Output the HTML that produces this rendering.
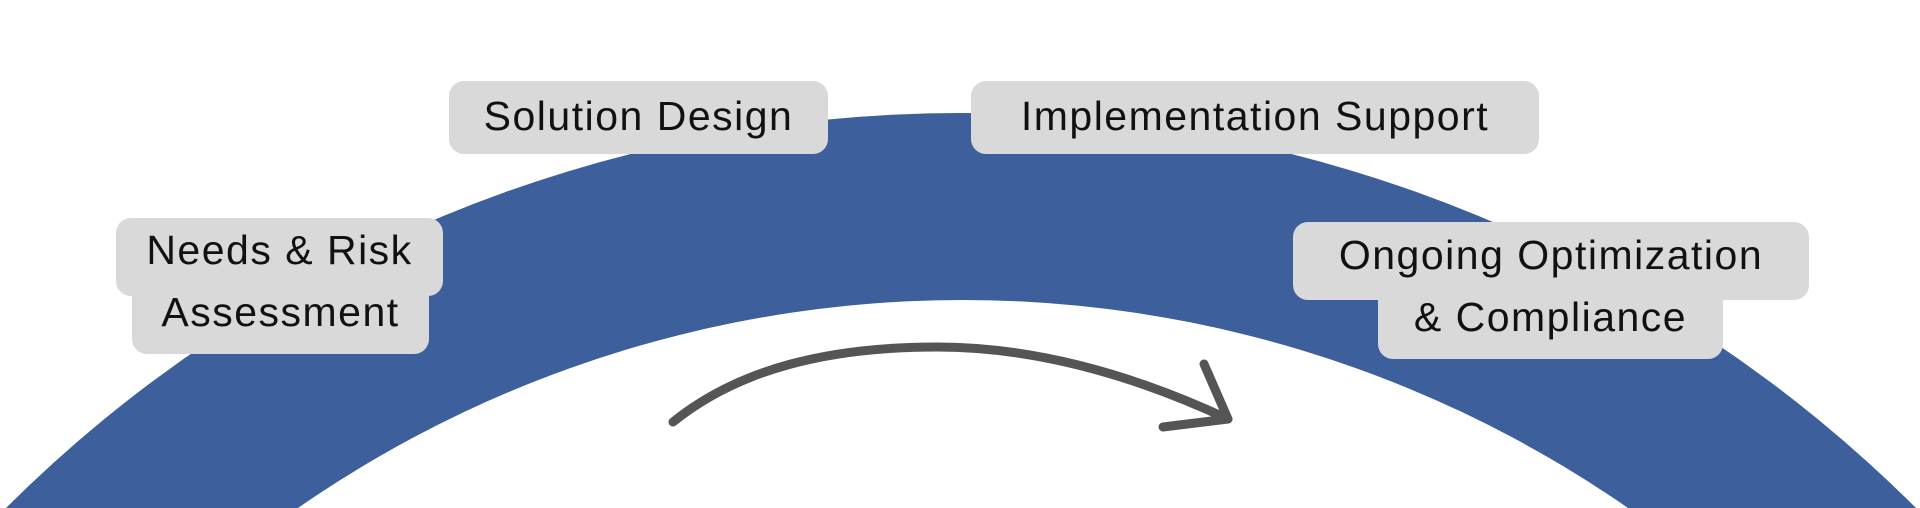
<!DOCTYPE html>
<html><head><meta charset="utf-8"><style>
html,body{margin:0;padding:0;background:#fff;overflow:hidden;}
body{width:1920px;height:508px;overflow:hidden;position:relative;font-family:"Liberation Sans",sans-serif;}
.b{position:absolute;background:#d9d9d9;border-radius:15px;}
.t{position:absolute;color:#111;font-size:41px;letter-spacing:1.5px;white-space:nowrap;text-align:center;line-height:1;}
</style></head><body>
<svg width="1920" height="508" style="position:absolute;left:0;top:0;display:block">
<defs><mask id="m"><rect width="1920" height="508" fill="#fff"/><circle cx="963" cy="1467" r="1167" fill="#000"/></mask></defs>
<circle cx="961" cy="1465" r="1352" fill="#3d5f9b" mask="url(#m)"/>
<path d="M673,422 C740,368 830,347 937,347 C1040,347 1140,378 1228,419" fill="none" stroke="#555" stroke-width="9" stroke-linecap="round"/>
<path d="M1163,427 L1228,419 L1204,364" fill="none" stroke="#555" stroke-width="9" stroke-linecap="round" stroke-linejoin="round"/>
</svg>
<div class="b" style="left:449px;top:81px;width:379px;height:73px"></div>
<div class="b" style="left:971px;top:81px;width:568px;height:73px"></div>
<div class="b" style="left:116px;top:218px;width:327px;height:78px"></div>
<div class="b" style="left:132px;top:280px;width:297px;height:74px"></div>
<div class="b" style="left:1293px;top:222px;width:516px;height:78px"></div>
<div class="b" style="left:1378px;top:284px;width:345px;height:75px"></div>
<div class="t" style="left:449px;top:96px;width:379px">Solution Design</div>
<div class="t" style="left:971px;top:96px;width:568px">Implementation Support</div>
<div class="t" style="left:116px;top:230px;width:327px">Needs &amp; Risk</div>
<div class="t" style="left:132px;top:292px;width:297px">Assessment</div>
<div class="t" style="left:1293px;top:235px;width:516px">Ongoing Optimization</div>
<div class="t" style="left:1378px;top:297px;width:345px">&amp; Compliance</div>
</body></html>
